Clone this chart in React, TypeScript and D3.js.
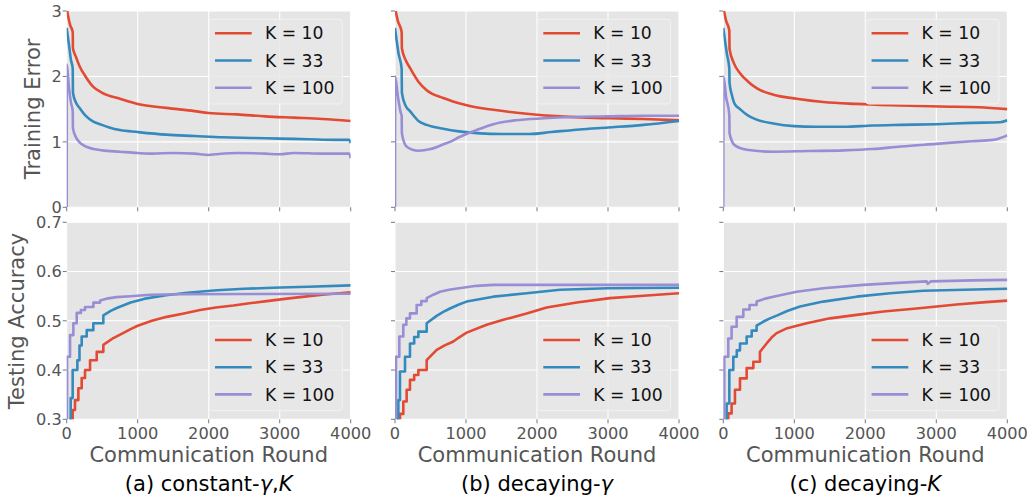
import React from "react";
import * as d3 from "d3";

const WIDTH = 1034;
const HEIGHT = 500;
const COLS = [66.7, 395, 723.3];
const PANEL_W = 284;
const TOP_ROW = { y: 11, h: 196.3 };
const BOT_ROW = { y: 222.3, h: 197 };
const FONT = "DejaVu Sans, sans-serif";
// accuracy is only evaluated every few rounds early on, so the start is drawn as steps
const STEP_END = 520;

const ROUND_TICKS = [0, 1000, 2000, 3000, 4000];
const ERR_TICKS = [0, 1, 2, 3];
const ACC_TICKS = [0.3, 0.4, 0.5, 0.6, 0.7];
const K_LABELS = ["K = 10", "K = 33", "K = 100"];
const COLORS = ["#E24A33", "#348ABD", "#988ED5"];

// training error, (a) constant-gamma,K
const errConst10 = [[0, 3.05], [20, 2.92], [50, 2.78], [85, 2.68], [88, 2.43], [130, 2.3], [180, 2.16], [265, 2.0], [375, 1.84], [500, 1.75], [750, 1.66], [1000, 1.58], [1400, 1.52], [1800, 1.47], [2000, 1.44], [2400, 1.42], [2800, 1.39], [3200, 1.37], [3600, 1.35], [4000, 1.32]];
const errConst33 = [[0, 2.74], [30, 2.5], [60, 2.25], [85, 2.12], [88, 1.75], [130, 1.6], [180, 1.52], [265, 1.4], [375, 1.31], [470, 1.27], [600, 1.22], [750, 1.18], [1000, 1.15], [1400, 1.11], [1800, 1.09], [2200, 1.07], [2600, 1.06], [3000, 1.05], [3400, 1.04], [3800, 1.03], [3980, 1.03], [4000, 0.98]];
const errConst100 = [[0, 0], [2, 2.18], [30, 1.85], [60, 1.6], [85, 1.47], [88, 1.21], [130, 1.07], [175, 1.0], [250, 0.94], [315, 0.91], [500, 0.87], [750, 0.85], [1000, 0.83], [1200, 0.82], [1500, 0.83], [1800, 0.82], [2000, 0.8], [2100, 0.81], [2400, 0.83], [2800, 0.82], [3000, 0.81], [3200, 0.83], [3600, 0.82], [3980, 0.82], [4000, 0.75]];

// training error, (b) decaying-gamma
const errGamma10 = [[0, 3.05], [40, 2.85], [94, 2.68], [97, 2.43], [150, 2.25], [211, 2.13], [330, 1.92], [446, 1.79], [680, 1.67], [1010, 1.56], [1385, 1.49], [1855, 1.43], [2324, 1.39], [3028, 1.36], [3500, 1.35], [4000, 1.33]];
const errGamma33 = [[0, 2.74], [50, 2.35], [94, 2.12], [97, 1.75], [150, 1.55], [211, 1.47], [330, 1.32], [446, 1.26], [680, 1.2], [900, 1.16], [1200, 1.13], [1500, 1.12], [1900, 1.12], [2200, 1.15], [2600, 1.19], [3000, 1.22], [3500, 1.26], [4000, 1.32]];
const errGamma100 = [[0, 0], [2, 2.0], [40, 1.7], [80, 1.45], [94, 1.4], [97, 1.13], [160, 0.93], [250, 0.88], [330, 0.865], [500, 0.89], [700, 0.97], [775, 1.0], [900, 1.07], [1150, 1.18], [1385, 1.27], [1700, 1.33], [2100, 1.36], [2500, 1.38], [3000, 1.39], [3500, 1.4], [4000, 1.4]];

// training error, (c) decaying-K
const errK10 = [[0, 3.05], [40, 2.85], [85, 2.7], [88, 2.42], [150, 2.2], [235, 2.05], [350, 1.92], [470, 1.82], [704, 1.72], [1033, 1.66], [1408, 1.61], [1878, 1.58], [2347, 1.56], [3052, 1.54], [3600, 1.53], [4000, 1.5]];
const errK33 = [[0, 2.74], [50, 2.35], [85, 2.12], [88, 1.9], [120, 1.72], [160, 1.58], [235, 1.5], [350, 1.4], [470, 1.34], [704, 1.28], [1000, 1.24], [1300, 1.23], [1700, 1.23], [2100, 1.25], [2500, 1.26], [3000, 1.27], [3500, 1.29], [3900, 1.3], [4000, 1.33]];
const errK100 = [[0, 0], [2, 2.0], [40, 1.68], [85, 1.41], [88, 1.13], [160, 0.95], [330, 0.88], [700, 0.85], [1200, 0.86], [1700, 0.87], [2100, 0.89], [2500, 0.93], [3000, 0.97], [3500, 1.01], [3800, 1.03], [4000, 1.1]];

// testing accuracy, (a)
const accConst10 = [[0, 0.1], [56, 0.3], [84, 0.319], [117, 0.339], [164, 0.363], [211, 0.384], [258, 0.4], [329, 0.42], [423, 0.437], [516, 0.451], [657, 0.465], [780, 0.474], [900, 0.483], [1000, 0.49], [1200, 0.5], [1408, 0.508], [1650, 0.515], [1878, 0.522], [2100, 0.527], [2347, 0.531], [2600, 0.536], [2817, 0.54], [3100, 0.545], [3286, 0.548], [3600, 0.553], [4000, 0.558]];
const accConst33 = [[0, 0.1], [56, 0.343], [84, 0.4], [150, 0.42], [180, 0.45], [211, 0.468], [282, 0.481], [375, 0.495], [516, 0.511], [620, 0.52], [704, 0.526], [900, 0.537], [1100, 0.545], [1400, 0.552], [1700, 0.557], [2113, 0.562], [2500, 0.565], [2900, 0.567], [3400, 0.569], [4000, 0.572]];
const accConst100 = [[0, 0.1], [5, 0.427], [47, 0.471], [94, 0.495], [141, 0.516], [200, 0.522], [258, 0.528], [376, 0.537], [470, 0.541], [563, 0.545], [700, 0.548], [900, 0.55], [1174, 0.553], [1600, 0.554], [4000, 0.555]];

// testing accuracy, (b)
const accGamma10 = [[0, 0.1], [47, 0.3], [70, 0.311], [117, 0.336], [164, 0.36], [211, 0.38], [270, 0.39], [329, 0.4], [446, 0.42], [587, 0.441], [700, 0.45], [822, 0.458], [900, 0.466], [1009, 0.476], [1291, 0.492], [1526, 0.502], [1854, 0.515], [2136, 0.527], [2559, 0.537], [3028, 0.546], [3498, 0.551], [4000, 0.556]];
const accGamma33 = [[0, 0.1], [47, 0.339], [70, 0.397], [141, 0.427], [211, 0.454], [270, 0.467], [329, 0.478], [446, 0.495], [587, 0.51], [680, 0.518], [775, 0.525], [900, 0.533], [1009, 0.539], [1385, 0.549], [1854, 0.556], [2324, 0.563], [3000, 0.566], [4000, 0.567]];
const accGamma100 = [[0, 0.1], [14, 0.427], [61, 0.468], [117, 0.492], [160, 0.505], [211, 0.515], [305, 0.532], [370, 0.54], [446, 0.546], [540, 0.553], [634, 0.559], [760, 0.563], [900, 0.566], [1150, 0.571], [1385, 0.573], [4000, 0.573]];

// testing accuracy, (c)
const accK10 = [[0, 0.1], [47, 0.3], [70, 0.312], [117, 0.332], [164, 0.36], [235, 0.383], [329, 0.404], [423, 0.417], [516, 0.437], [610, 0.454], [680, 0.466], [751, 0.475], [900, 0.485], [1174, 0.495], [1502, 0.505], [1878, 0.512], [2254, 0.519], [2723, 0.525], [3286, 0.533], [3700, 0.538], [4000, 0.541]];
const accK33 = [[0, 0.1], [47, 0.332], [85, 0.4], [141, 0.427], [190, 0.44], [235, 0.454], [329, 0.468], [400, 0.48], [469, 0.49], [560, 0.498], [657, 0.505], [760, 0.511], [900, 0.52], [1080, 0.529], [1408, 0.539], [1878, 0.549], [2347, 0.556], [2817, 0.561], [3400, 0.563], [4000, 0.565]];
const accK100 = [[0, 0.1], [14, 0.427], [70, 0.464], [117, 0.488], [188, 0.508], [282, 0.523], [370, 0.532], [469, 0.539], [590, 0.545], [704, 0.549], [900, 0.555], [1033, 0.559], [1408, 0.566], [1972, 0.573], [2582, 0.578], [2864, 0.58], [2880, 0.575], [2920, 0.58], [3500, 0.582], [4000, 0.583]];

const CAPTIONS = [
  ["(a) constant-", "γ", ",", "K"],
  ["(b) decaying-", "γ"],
  ["(c) decaying-", "K"],
];

type Pt = number[];

function Panel({ x0, row, domain, ticks, series, stepped, showY, showX, legendTop, id }: any) {
  const x = d3.scaleLinear().domain([0, 4000]).range([x0, x0 + PANEL_W]);
  const y = d3.scaleLinear().domain(domain).range([row.y + row.h, row.y]);
  const smoothLine = d3
    .line<Pt>()
    .x((d) => x(d[0]))
    .y((d) => y(d[1]))
    .curve(d3.curveMonotoneX);
  const linLine = d3
    .line<Pt>()
    .x((d) => x(d[0]))
    .y((d) => y(d[1]));
  const stepLine = d3
    .line<Pt>()
    .x((d) => x(d[0]))
    .y((d) => y(d[1]))
    .curve(d3.curveStepAfter);
  const pathFor = (s: Pt[]) => {
    if (!stepped) return smoothLine(s) || "";
    let cut = s.findIndex((d) => d[0] > STEP_END);
    if (cut < 1) cut = s.length;
    const head = s.slice(0, cut);
    const tail = s.slice(cut - 1);
    return (stepLine(head) || "") + (tail.length > 1 ? (linLine(tail) || "").replace(/^M/, "L") : "");
  };
  const right = x0 + PANEL_W;
  const bottom = row.y + row.h;
  const lw = 133;
  const lh = 84.7;
  const lx = right - 8.4 - lw;
  const ly = legendTop ? row.y + 8.3 : bottom - 8.6 - lh;
  const fmt = domain[1] < 1 ? d3.format(".1f") : d3.format("d");
  return (
    <g>
      <defs>
        <clipPath id={id}>
          <rect x={x0} y={row.y} width={PANEL_W} height={row.h} />
        </clipPath>
      </defs>
      <rect x={x0} y={row.y} width={PANEL_W} height={row.h} fill="#E5E5E5" />
      {ROUND_TICKS.map((t) => (
        <line key={"gx" + t} x1={x(t)} x2={x(t)} y1={row.y} y2={bottom} stroke="#fff" strokeWidth={1.1} />
      ))}
      {ticks.map((t: number) => (
        <line key={"gy" + t} x1={x0} x2={right} y1={y(t)} y2={y(t)} stroke="#fff" strokeWidth={1.1} />
      ))}
      {ROUND_TICKS.map((t) => (
        <line key={"tx" + t} x1={x(t)} x2={x(t)} y1={bottom} y2={bottom + 4} stroke="#555" strokeWidth={0.8} />
      ))}
      {ticks.map((t: number) => (
        <line key={"ty" + t} x1={x0 - 4} x2={x0} y1={y(t)} y2={y(t)} stroke="#555" strokeWidth={0.8} />
      ))}
      {showY &&
        ticks.map((t: number) => (
          <text key={"ly" + t} x={x0 - 5} y={y(t)} dy="0.36em" textAnchor="end" fontSize={16.2} fill="#555" fontFamily={FONT}>
            {fmt(t)}
          </text>
        ))}
      {showX &&
        ROUND_TICKS.map((t) => (
          <text key={"lx" + t} x={x(t)} y={439} textAnchor="middle" fontSize={16.2} fill="#555" fontFamily={FONT}>
            {t}
          </text>
        ))}
      <g clipPath={`url(#${id})`}>
        {series.map((s: Pt[], i: number) => (
          <path key={i} d={pathFor(s)} fill="none" stroke={COLORS[i]} strokeWidth={2.6} strokeLinejoin="round" />
        ))}
      </g>
      <rect x={lx} y={ly} width={lw} height={lh} rx={3} fill="#E8E8E8" fillOpacity={0.85} stroke="#F2F2F2" strokeWidth={1} />
      {K_LABELS.map((lab, i) => {
        const yy = ly + 14 + i * 27.2;
        return (
          <g key={lab}>
            <line x1={lx + 5.7} x2={lx + 42.4} y1={yy} y2={yy} stroke={COLORS[i]} strokeWidth={2.6} />
            <text x={lx + 55.7} y={yy} dy="0.36em" fontSize={17.2} fill="#111" fontFamily={FONT}>
              {lab}
            </text>
          </g>
        );
      })}
    </g>
  );
}

export default function App() {
  const errSeries = [
    [errConst10, errConst33, errConst100],
    [errGamma10, errGamma33, errGamma100],
    [errK10, errK33, errK100],
  ];
  const accSeries = [
    [accConst10, accConst33, accConst100],
    [accGamma10, accGamma33, accGamma100],
    [accK10, accK33, accK100],
  ];
  return (
    <div style={{ position: "absolute", left: 0, top: 0 }}>
      <svg width={WIDTH} height={HEIGHT} style={{ display: "block", background: "#fff" }}>
        {COLS.map((cx, c) => (
          <g key={c}>
            <Panel
              id={"clipTop" + c}
              x0={cx}
              row={TOP_ROW}
              domain={[0, 3]}
              ticks={ERR_TICKS}
              series={errSeries[c]}
              stepped={false}
              showY={c === 0}
              showX={false}
              legendTop={true}
            />
            <Panel
              id={"clipBot" + c}
              x0={cx}
              row={BOT_ROW}
              domain={[0.3, 0.7]}
              ticks={ACC_TICKS}
              series={accSeries[c]}
              stepped={true}
              showY={c === 0}
              showX={true}
              legendTop={false}
            />
            <text x={cx + PANEL_W / 2} y={462} textAnchor="middle" fontSize={21} fill="#555" fontFamily={FONT}>
              Communication Round
            </text>
            <text x={cx + PANEL_W / 2} y={491} textAnchor="middle" fontSize={21} fill="#000" fontFamily={FONT}>
              {CAPTIONS[c].map((part, j) => (
                <tspan key={j} fontStyle={j % 2 === 1 ? "italic" : "normal"}>
                  {part}
                </tspan>
              ))}
            </text>
          </g>
        ))}
        <text transform="translate(39.5,109) rotate(-90)" textAnchor="middle" fontSize={21} fill="#555" fontFamily={FONT}>
          Training Error
        </text>
        <text transform="translate(24,321) rotate(-90)" textAnchor="middle" fontSize={21} fill="#555" fontFamily={FONT}>
          Testing Accuracy
        </text>
      </svg>
    </div>
  );
}
